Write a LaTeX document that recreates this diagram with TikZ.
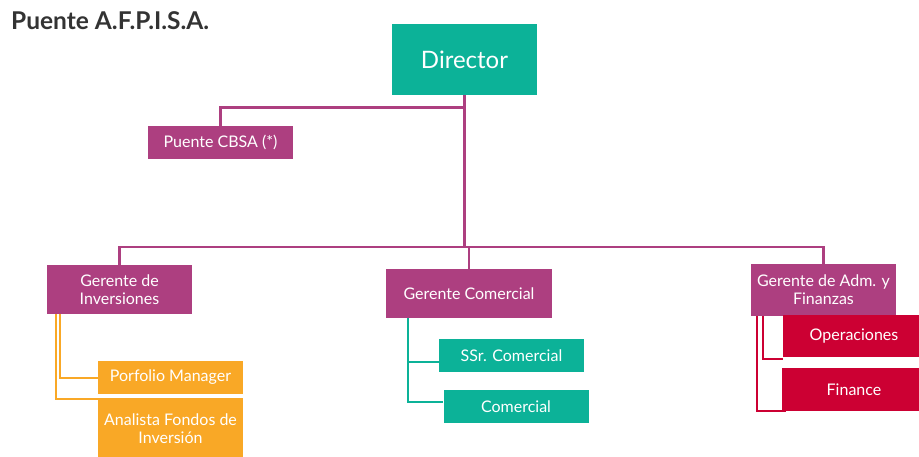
\documentclass[tikz,border=0pt]{standalone}
\usepackage{fontspec}
\setmainfont{Lato}
\definecolor{teal1}{RGB}{12,178,152}
\definecolor{mag}{RGB}{173,63,128}
\definecolor{orng}{RGB}{249,168,38}
\definecolor{redd}{RGB}{204,0,51}
\definecolor{ttl}{RGB}{51,51,51}
\tikzset{
  box/.style={inner sep=0pt, text=white, align=center, font=\fontsize{16}{18}\selectfont},
  tbox/.style={box, fill=teal1},
  mbox/.style={box, fill=mag},
  obox/.style={box, fill=orng},
  rbox/.style={box, fill=redd},
  mline/.style={draw=mag, line width=2.5pt},
  oline/.style={draw=orng, line width=2pt},
  tline/.style={draw=teal1, line width=2pt},
  rline/.style={draw=redd, line width=2pt},
}
\begin{document}
\begin{tikzpicture}[x=1pt,y=-1pt]
\useasboundingbox (0,0) rectangle (919,457);
\node[anchor=base west, text=ttl, font=\fontsize{24.5}{28}\selectfont\bfseries, inner sep=0pt] (title) at (11,30) {Puente A.F.P.I.S.A.};

\node[tbox, minimum width=145pt, minimum height=71pt, font=\fontsize{24}{28}\selectfont] (dir) at (464.5,59.5) {Director};
\node[mbox, minimum width=145pt, minimum height=33pt] (cbsa) at (220.5,142.5) {Puente CBSA (*)};

\node[mbox, minimum width=145pt, minimum height=49pt] (inv) at (119.5,289.5) {Gerente de\\Inversiones};
\node[mbox, minimum width=166pt, minimum height=49pt] (com) at (469,293.5) {Gerente Comercial};
\node[mbox, minimum width=145pt, minimum height=52pt] (adm) at (823.5,290) {Gerente de Adm. y\\Finanzas};

\node[obox, minimum width=145pt, minimum height=33pt] (pm) at (170.5,377.5) {Porfolio Manager};
\node[obox, minimum width=145pt, minimum height=62pt] (an) at (170.5,429) {Analista Fondos de\\Inversión};

\node[tbox, minimum width=145pt, minimum height=33pt] (ssr) at (511.5,355.5) {SSr. Comercial};
\node[tbox, minimum width=145pt, minimum height=33pt] (comm) at (516,406.5) {Comercial};

\node[rbox, minimum width=142pt, minimum height=42pt] (op) at (854,336) {Operaciones};
\node[rbox, minimum width=144pt, minimum height=43pt] (fin) at (854,389.5) {Finance};

% connectors
\draw[mline] (dir.south) -- ++(0,12.5) -| (cbsa.north);
\draw[mline] (dir.south) -- ++(0,152) coordinate (bus);
\draw[mline] (inv.north) |- (bus) -| (adm.north);
\draw[mline] (bus) -| (com.north);

\draw[oline] ([xshift=13pt]inv.south west) |- ([yshift=0pt]pm.west);
\draw[oline] ([xshift=9pt]inv.south west) |- ([yshift=-1pt]an.north west);

\draw[tline] ([xshift=22pt]com.south west) |- ([yshift=-6.5pt]ssr.west);
\draw[tline] ([xshift=22pt]com.south west) |- ([yshift=4.5pt]comm.west);

\draw[rline] ([xshift=12pt]adm.south west) |- ([yshift=-2pt]op.south west);
\draw[rline] ([xshift=6pt]adm.south west) |- ([xshift=4pt]fin.south west);
\end{tikzpicture}
\end{document}
